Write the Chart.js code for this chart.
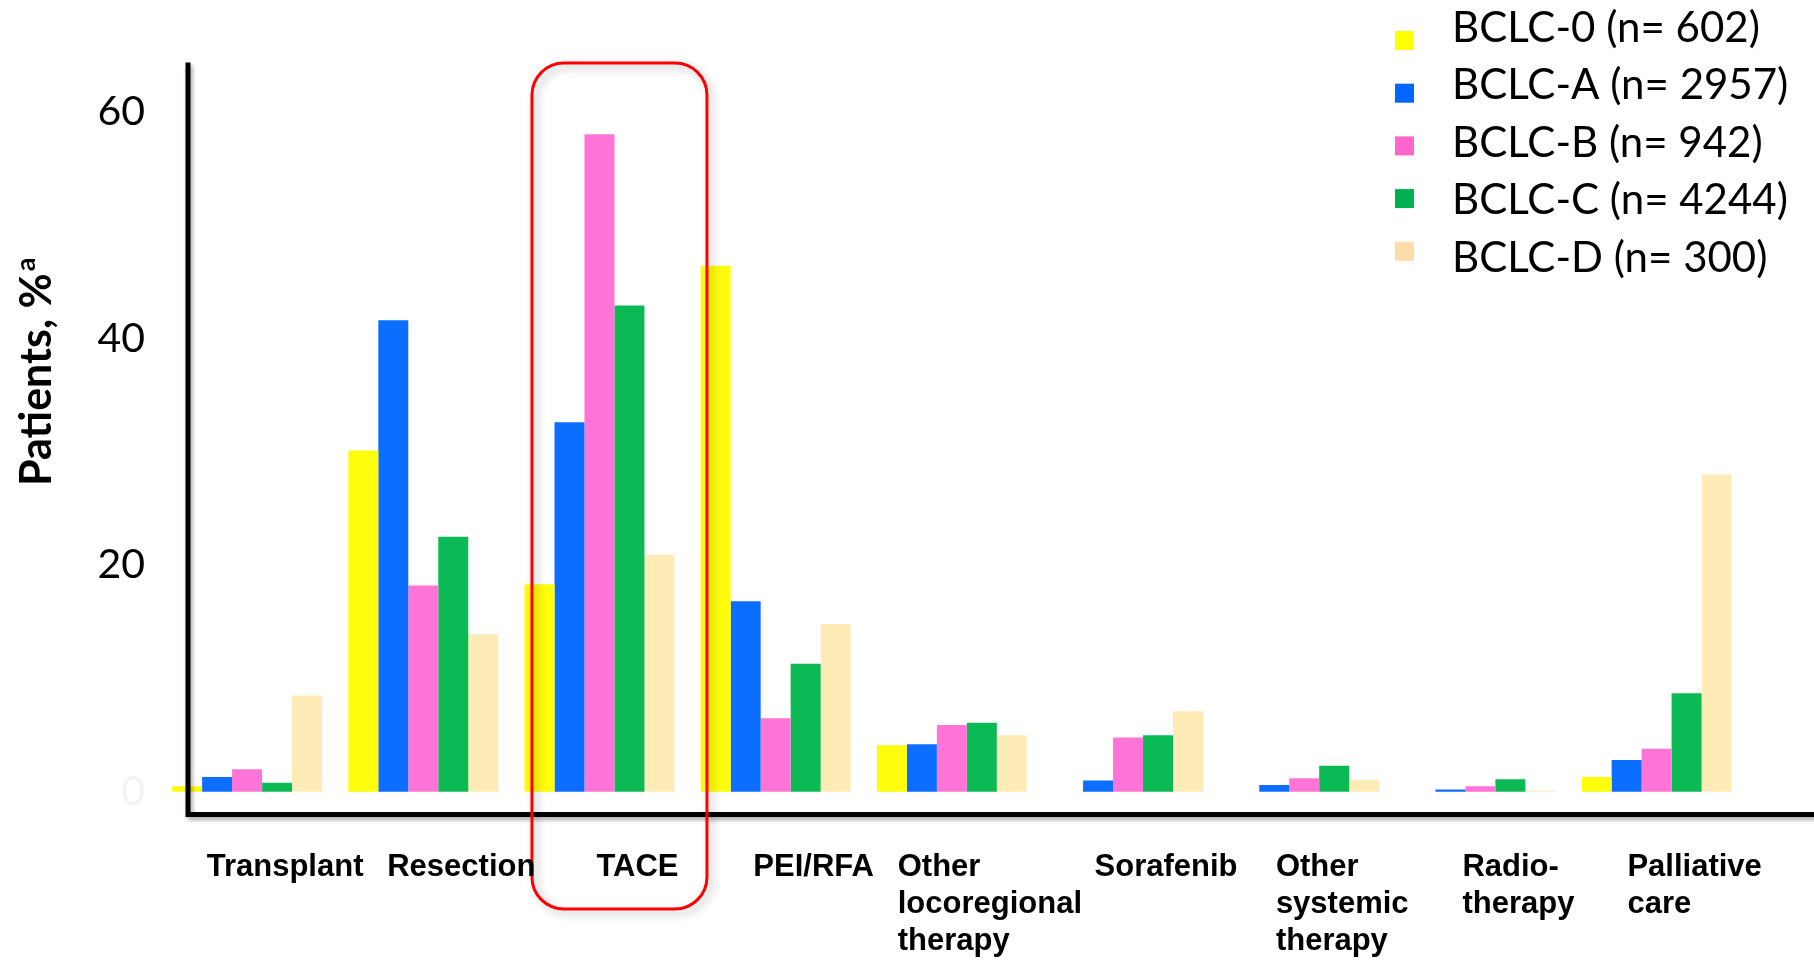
<!DOCTYPE html>
<html>
<head>
<meta charset="utf-8">
<script src="https://cdn.jsdelivr.net/npm/chart.js@4/dist/chart.umd.min.js"></script>
<style>
  html, body { margin: 0; padding: 0; background: #ffffff; }
  canvas { display: block; }
</style>
</head>
<body>
<canvas id="chart" width="1814" height="960"></canvas>
<script>
// Treatment categories (multi-line labels)
const categories = [
  ['Transplant'],
  ['Resection'],
  ['TACE'],
  ['PEI/RFA'],
  ['Other', 'locoregional', 'therapy'],
  ['Sorafenib'],
  ['Other', 'systemic', 'therapy'],
  ['Radio-', 'therapy'],
  ['Palliative', 'care']
];

// BCLC stage groups
const seriesNames = ['BCLC-0 (n= 602)', 'BCLC-A (n= 2957)', 'BCLC-B (n= 942)', 'BCLC-C (n= 4244)', 'BCLC-D (n= 300)'];

// Patients receiving each treatment, %
const bclc0 = [0.5, 30.1, 18.3, 46.4, 4.1, 0, 0, 0, 1.3];
const bclcA = [1.3, 41.6, 32.6, 16.8, 4.2, 1.0, 0.6, 0.2, 2.8];
const bclcB = [2.0, 18.2, 58.0, 6.5, 5.9, 4.8, 1.2, 0.5, 3.8];
const bclcC = [0.8, 22.5, 42.9, 11.3, 6.1, 5.0, 2.3, 1.1, 8.7];
const bclcD = [8.5, 13.9, 20.9, 14.8, 5.0, 7.1, 1.05, 0.1, 28.0];

// Value axis ticks
const yTicks = [0, 20, 40, 60];

const seriesColors = ['#FFFC0C', '#0C6EFF', '#FF74D6', '#0BB955', '#FFEBB6'];
const legendColors = ['#FFFF00', '#0066FF', '#FF66CC', '#00B050', '#FFDDAA'];
const highlighted = 'TACE';

// Black L-shaped axes with a soft drop shadow
const axesPlugin = {
  id: 'axes',
  afterDatasetsDraw(chart) {
    const { ctx, chartArea } = chart;
    const x0 = chartArea.left + 29;
    const yb = chartArea.bottom;
    ctx.save();
    ctx.strokeStyle = '#000';
    ctx.lineWidth = 5;
    ctx.lineCap = 'square';
    ctx.shadowColor = 'rgba(0,0,0,0.35)';
    ctx.shadowBlur = 4;
    ctx.shadowOffsetX = 2;
    ctx.shadowOffsetY = 3;
    ctx.beginPath();
    ctx.moveTo(x0, chartArea.top + 1);
    ctx.lineTo(x0, yb);
    ctx.lineTo(chart.width + 5, yb);
    ctx.stroke();
    ctx.restore();
  }
};

// Category labels: left-aligned line blocks under each group
const categoryLabelPlugin = {
  id: 'categoryLabels',
  afterDraw(chart) {
    const { ctx, chartArea } = chart;
    const xs = chart.scales.x;
    ctx.save();
    ctx.font = 'bold 31px "Liberation Sans", Arial, sans-serif';
    ctx.fillStyle = '#000';
    ctx.textAlign = 'left';
    ctx.textBaseline = 'alphabetic';
    chart.data.labels.forEach((lines, i) => {
      const w = Math.max(...lines.map(l => ctx.measureText(l).width));
      const left = xs.getPixelForValue(i) + 38 - w / 2;
      lines.forEach((line, j) => {
        ctx.fillText(line, left, chartArea.bottom + 61.5 + j * 37);
      });
    });
    ctx.restore();
  }
};

// Rounded red frame around the highlighted treatment group
const highlightPlugin = {
  id: 'highlight',
  afterDraw(chart) {
    const { ctx, chartArea } = chart;
    const xs = chart.scales.x;
    const idx = chart.data.labels.findIndex(l => l.join(' ') === highlighted);
    if (idx < 0) return;
    const cx = xs.getPixelForValue(idx);
    const left = cx - 67.5, right = cx + 107.5;
    const top = chartArea.top - 1, bottom = chartArea.bottom + 94.5;
    ctx.save();
    ctx.strokeStyle = '#FF0000';
    ctx.lineWidth = 3;
    ctx.shadowColor = 'rgba(0,0,0,0.28)';
    ctx.shadowBlur = 8;
    ctx.shadowOffsetX = 4;
    ctx.shadowOffsetY = 4;
    ctx.beginPath();
    ctx.roundRect(left, top, right - left, bottom - top, 32);
    ctx.stroke();
    ctx.restore();
  }
};

// Y-axis title with superscript footnote mark
const yTitlePlugin = {
  id: 'yTitle',
  afterDraw(chart) {
    const { ctx } = chart;
    ctx.save();
    ctx.translate(51, 486);
    ctx.rotate(-Math.PI / 2);
    ctx.fillStyle = '#000';
    ctx.textAlign = 'left';
    ctx.textBaseline = 'alphabetic';
    ctx.font = 'bold 43px Lato, sans-serif';
    const main = 'Patients, %';
    ctx.fillText(main, 0, 0);
    const w = ctx.measureText(main).width;
    ctx.font = 'bold 27px Lato, sans-serif';
    ctx.fillText('a', w + 2, -16);
    ctx.restore();
  }
};

// Legend in the top-right corner
const legendPlugin = {
  id: 'cornerLegend',
  afterDraw(chart) {
    const { ctx } = chart;
    ctx.save();
    ctx.font = '42px Lato, sans-serif';
    ctx.textAlign = 'left';
    ctx.textBaseline = 'middle';
    chart.data.datasets.forEach((ds, i) => {
      ctx.fillStyle = legendColors[i];
      ctx.fillRect(1395, 31 + i * 52.7, 19, 19);
      ctx.fillStyle = '#000';
      ctx.fillText(ds.label, 1452, 28 + i * 57.5);
    });
    ctx.restore();
  }
};

const seriesData = [bclc0, bclcA, bclcB, bclcC, bclcD];

new Chart(document.getElementById('chart'), {
  type: 'bar',
  data: {
    labels: categories,
    datasets: seriesData.map((d, i) => ({
      label: seriesNames[i],
      data: d,
      backgroundColor: seriesColors[i],
      borderWidth: 0,
      categoryPercentage: 0.851,
      barPercentage: 1.0
    }))
  },
  options: {
    responsive: false,
    devicePixelRatio: 1,
    animation: false,
    events: [],
    layout: { padding: { left: 0, top: 64, right: 69.3, bottom: 145.5 } },
    plugins: {
      legend: { display: false },
      tooltip: { enabled: false }
    },
    scales: {
      x: {
        display: false,
        offset: true
      },
      y: {
        min: -2.0,
        max: 64.2,
        afterFit(s) { s.width = 159; },
        afterBuildTicks(s) { s.ticks = yTicks.map(v => ({ value: v })); },
        grid: { display: false, drawTicks: false },
        border: { display: false },
        ticks: {
          padding: 14,
          font: { family: 'Lato', size: 41 },
          color: c => (c.tick && c.tick.value === 0) ? '#f3f3f3' : '#000000'
        }
      }
    }
  },
  plugins: [axesPlugin, highlightPlugin, categoryLabelPlugin, yTitlePlugin, legendPlugin]
});
</script>
</body>
</html>
